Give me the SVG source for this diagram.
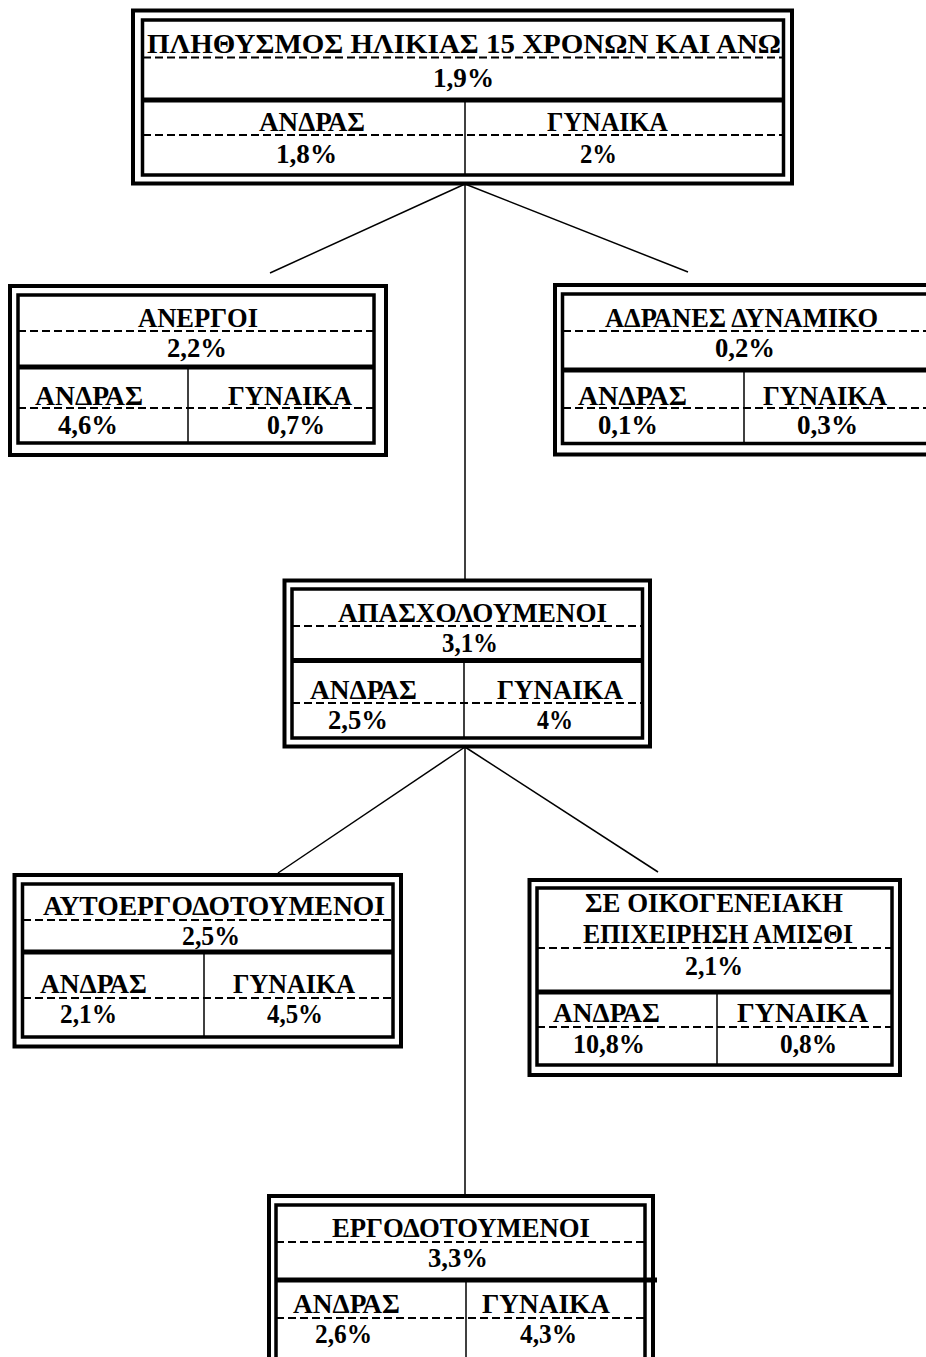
<svg xmlns="http://www.w3.org/2000/svg" width="926" height="1357" viewBox="0 0 926 1357">
<style>
.bg{fill:#fff}
.outer{fill:none;stroke:#000;stroke-width:4}
.inner{fill:none;stroke:#000;stroke-width:3.5}
.thick{stroke:#000;stroke-width:5}
.vdiv{stroke:#000;stroke-width:1.5}
.dash{stroke:#000;stroke-width:2;stroke-dasharray:8 4}
.conn{stroke:#000;stroke-width:1.5;fill:none}
text{font-family:"Liberation Serif","Times New Roman",serif;font-weight:bold;font-size:27px;fill:#000}
</style>
<rect width="926" height="1357" class="bg"/>
<g id="connectors">
<line class="conn" x1="465" y1="184" x2="270" y2="273"/>
<line class="conn" x1="465" y1="184" x2="688" y2="272"/>
<line class="conn" x1="465" y1="184" x2="465" y2="580"/>
<line class="conn" x1="465" y1="747" x2="278" y2="873"/>
<line class="conn" x1="465" y1="747" x2="658" y2="872"/>
<line class="conn" x1="465" y1="747" x2="465" y2="1195"/>
</g>
<g id="node-total">
<rect class="outer" x="133" y="10.5" width="659" height="173" fill="#fff"/>
<rect class="inner" x="142.5" y="20" width="641" height="155"/>
<line class="dash" x1="143" y1="57.5" x2="783" y2="57.5"/>
<line class="thick" x1="143" y1="100" x2="783" y2="100"/>
<line class="vdiv" x1="465" y1="100" x2="465" y2="175"/>
<line class="dash" x1="143" y1="135" x2="783" y2="135"/>
<text x="147" y="53" textLength="634" lengthAdjust="spacingAndGlyphs">ΠΛΗΘΥΣΜΟΣ ΗΛΙΚΙΑΣ 15 ΧΡΟΝΩΝ ΚΑΙ ΑΝΩ</text>
<text x="433" y="87" textLength="61" lengthAdjust="spacingAndGlyphs">1,9%</text>
<text x="259" y="131" textLength="106" lengthAdjust="spacingAndGlyphs">ΑΝΔΡΑΣ</text>
<text x="276" y="163" textLength="61" lengthAdjust="spacingAndGlyphs">1,8%</text>
<text x="547" y="131" textLength="121" lengthAdjust="spacingAndGlyphs">ΓΥΝΑΙΚΑ</text>
<text x="580" y="163" textLength="37" lengthAdjust="spacingAndGlyphs">2%</text>
</g>
<g id="node-unemployed">
<rect class="outer" x="10" y="286" width="376" height="169" fill="#fff"/>
<rect class="inner" x="18" y="295" width="356" height="148"/>
<line class="dash" x1="18" y1="331" x2="374" y2="331"/>
<line class="thick" x1="18" y1="367" x2="374" y2="367"/>
<line class="vdiv" x1="188" y1="367" x2="188" y2="443"/>
<line class="dash" x1="18" y1="408" x2="374" y2="408"/>
<text x="138" y="327" textLength="120" lengthAdjust="spacingAndGlyphs">ΑΝΕΡΓΟΙ</text>
<text x="167" y="357" textLength="60" lengthAdjust="spacingAndGlyphs">2,2%</text>
<text x="35" y="405" textLength="108" lengthAdjust="spacingAndGlyphs">ΑΝΔΡΑΣ</text>
<text x="228" y="405" textLength="124" lengthAdjust="spacingAndGlyphs">ΓΥΝΑΙΚΑ</text>
<text x="58" y="434" textLength="60" lengthAdjust="spacingAndGlyphs">4,6%</text>
<text x="267" y="434" textLength="58" lengthAdjust="spacingAndGlyphs">0,7%</text>
</g>
<g id="node-inactive">
<rect class="outer" x="555" y="285" width="385" height="169.5" fill="#fff"/>
<rect class="inner" x="562.5" y="294" width="370" height="149.5"/>
<line class="dash" x1="563" y1="331" x2="932" y2="331"/>
<line class="thick" x1="563" y1="370" x2="932" y2="370"/>
<line class="vdiv" x1="744" y1="370" x2="744" y2="443"/>
<line class="dash" x1="563" y1="408" x2="932" y2="408"/>
<text x="605" y="327" textLength="273" lengthAdjust="spacingAndGlyphs">ΑΔΡΑΝΕΣ ΔΥΝΑΜΙΚΟ</text>
<text x="715" y="357" textLength="60" lengthAdjust="spacingAndGlyphs">0,2%</text>
<text x="578" y="405" textLength="109" lengthAdjust="spacingAndGlyphs">ΑΝΔΡΑΣ</text>
<text x="763" y="405" textLength="124" lengthAdjust="spacingAndGlyphs">ΓΥΝΑΙΚΑ</text>
<text x="598" y="434" textLength="60" lengthAdjust="spacingAndGlyphs">0,1%</text>
<text x="797" y="434" textLength="61" lengthAdjust="spacingAndGlyphs">0,3%</text>
</g>
<g id="node-employed">
<rect class="outer" x="284.5" y="580.5" width="365.5" height="166" fill="#fff"/>
<rect class="inner" x="292" y="589" width="350.5" height="149"/>
<line class="dash" x1="292" y1="626" x2="642" y2="626"/>
<line class="thick" x1="292" y1="660.5" x2="642" y2="660.5"/>
<line class="vdiv" x1="464" y1="660" x2="464" y2="738"/>
<line class="dash" x1="292" y1="703" x2="642" y2="703"/>
<text x="338" y="622" textLength="269" lengthAdjust="spacingAndGlyphs">ΑΠΑΣΧΟΛΟΥΜΕΝΟΙ</text>
<text x="442" y="652" textLength="56" lengthAdjust="spacingAndGlyphs">3,1%</text>
<text x="310" y="699" textLength="107" lengthAdjust="spacingAndGlyphs">ΑΝΔΡΑΣ</text>
<text x="497" y="699" textLength="126" lengthAdjust="spacingAndGlyphs">ΓΥΝΑΙΚΑ</text>
<text x="328" y="729" textLength="60" lengthAdjust="spacingAndGlyphs">2,5%</text>
<text x="537" y="729" textLength="36" lengthAdjust="spacingAndGlyphs">4%</text>
</g>
<g id="node-self-employed">
<rect class="outer" x="14.5" y="875" width="386.5" height="171.5" fill="#fff"/>
<rect class="inner" x="22.5" y="884" width="370.5" height="153"/>
<line class="dash" x1="23" y1="920" x2="393" y2="920"/>
<line class="thick" x1="23" y1="952" x2="393" y2="952"/>
<line class="vdiv" x1="204" y1="952" x2="204" y2="1037"/>
<line class="dash" x1="23" y1="998" x2="393" y2="998"/>
<text x="43" y="915" textLength="342" lengthAdjust="spacingAndGlyphs">ΑΥΤΟΕΡΓΟΔΟΤΟΥΜΕΝΟΙ</text>
<text x="182" y="945" textLength="58" lengthAdjust="spacingAndGlyphs">2,5%</text>
<text x="40" y="993" textLength="107" lengthAdjust="spacingAndGlyphs">ΑΝΔΡΑΣ</text>
<text x="233" y="993" textLength="122" lengthAdjust="spacingAndGlyphs">ΓΥΝΑΙΚΑ</text>
<text x="60" y="1023" textLength="57" lengthAdjust="spacingAndGlyphs">2,1%</text>
<text x="267" y="1023" textLength="56" lengthAdjust="spacingAndGlyphs">4,5%</text>
</g>
<g id="node-family-business">
<rect class="outer" x="529.5" y="880" width="370.5" height="195" fill="#fff"/>
<rect class="inner" x="537" y="888" width="355" height="177"/>
<line class="dash" x1="537" y1="948" x2="892" y2="948"/>
<line class="thick" x1="537" y1="992" x2="892" y2="992"/>
<line class="vdiv" x1="717" y1="992" x2="717" y2="1065"/>
<line class="dash" x1="537" y1="1027" x2="892" y2="1027"/>
<text x="585" y="912" textLength="258" lengthAdjust="spacingAndGlyphs">ΣΕ ΟΙΚΟΓΕΝΕΙΑΚΗ</text>
<text x="583" y="943" textLength="270" lengthAdjust="spacingAndGlyphs">ΕΠΙΧΕΙΡΗΣΗ ΑΜΙΣΘΙ</text>
<text x="685" y="975" textLength="58" lengthAdjust="spacingAndGlyphs">2,1%</text>
<text x="553" y="1022" textLength="107" lengthAdjust="spacingAndGlyphs">ΑΝΔΡΑΣ</text>
<text x="737" y="1022" textLength="131" lengthAdjust="spacingAndGlyphs">ΓΥΝΑΙΚΑ</text>
<text x="573" y="1053" textLength="72" lengthAdjust="spacingAndGlyphs">10,8%</text>
<text x="780" y="1053" textLength="57" lengthAdjust="spacingAndGlyphs">0,8%</text>
</g>
<g id="node-employees">
<rect class="outer" x="269" y="1196" width="384" height="200" fill="#fff"/>
<rect class="inner" x="276" y="1205" width="369" height="190"/>
<line class="dash" x1="276" y1="1242" x2="645" y2="1242"/>
<line class="thick" x1="276" y1="1280" x2="657" y2="1280"/>
<line class="vdiv" x1="466" y1="1280" x2="466" y2="1357"/>
<line class="dash" x1="276" y1="1318" x2="645" y2="1318"/>
<text x="332" y="1237" textLength="258" lengthAdjust="spacingAndGlyphs">ΕΡΓΟΔΟΤΟΥΜΕΝΟΙ</text>
<text x="428" y="1267" textLength="60" lengthAdjust="spacingAndGlyphs">3,3%</text>
<text x="293" y="1313" textLength="107" lengthAdjust="spacingAndGlyphs">ΑΝΔΡΑΣ</text>
<text x="482" y="1313" textLength="128" lengthAdjust="spacingAndGlyphs">ΓΥΝΑΙΚΑ</text>
<text x="315" y="1343" textLength="57" lengthAdjust="spacingAndGlyphs">2,6%</text>
<text x="520" y="1343" textLength="57" lengthAdjust="spacingAndGlyphs">4,3%</text>
</g>
</svg>
